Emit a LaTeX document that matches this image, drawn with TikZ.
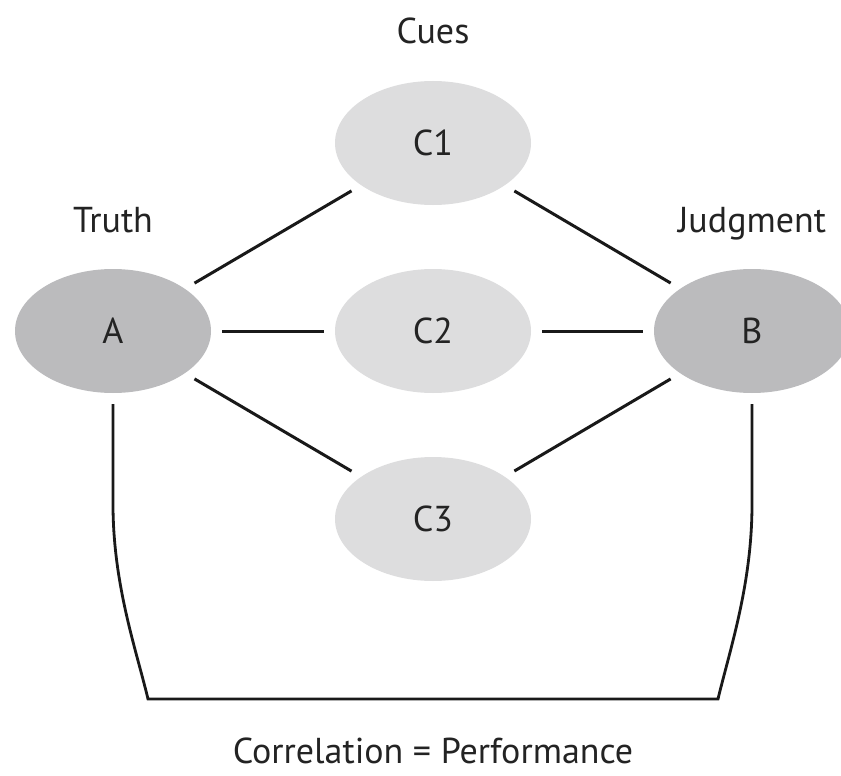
\documentclass[tikz,border=0pt]{standalone}
\usepackage{fontspec}
\setmainfont{PT Sans}
\usetikzlibrary{shapes.geometric}
\definecolor{darkfill}{RGB}{187,187,189}
\definecolor{lightfill}{RGB}{221,221,222}
\definecolor{txt}{RGB}{35,35,35}
\definecolor{ln}{RGB}{25,25,25}
\tikzset{
  ell/.style={ellipse, draw=none, minimum width=196pt, minimum height=124pt, inner sep=0pt, text=txt, font=\fontsize{36}{40}\selectfont},
  truthnode/.style={ell, fill=darkfill},
  cuenode/.style={ell, fill=lightfill},
  lab/.style={anchor=base, text=txt, font=\fontsize{36}{40}\selectfont, inner sep=0pt},
  conn/.style={draw=ln, line width=3pt, shorten <=11pt, shorten >=11pt},
  brace/.style={draw=ln, line width=2.8pt}
}
\begin{document}
\begin{tikzpicture}[x=1pt,y=-1pt]
\useasboundingbox (0,0) rectangle (841,776);
\node[truthnode] (A) at (113,331) {A};
\node[truthnode] (B) at (752,331) {B};
\node[cuenode] (C1) at (433,143) {C1};
\node[cuenode] (C2) at (433,331) {C2};
\node[cuenode] (C3) at (433,519) {C3};
\node[lab] (cues) at (433,44) {Cues};
\node[lab] (truth) at (113,232) {Truth};
\node[lab] (judg) at (752,232) {Judgment};
\node[lab] (perf) at (433,763) {Correlation = Performance};
\draw[conn] (A) -- (C1);
\draw[conn] (A) -- (C2);
\draw[conn] (A) -- (C3);
\draw[conn] (C1) -- (B);
\draw[conn] (C2) -- (B);
\draw[conn] (C3) -- (B);
\coordinate (bl) at (148,699);
\coordinate (br) at (718,699);
\draw[brace] ([yshift=-11pt]A.south) -- ++(0,100) .. controls +(0,80) and +(-12,-50) .. (bl) -- (br) .. controls +(12,-50) and +(0,80) .. ([yshift=-111pt]B.south) -- ([yshift=-11pt]B.south);
\end{tikzpicture}
\end{document}
